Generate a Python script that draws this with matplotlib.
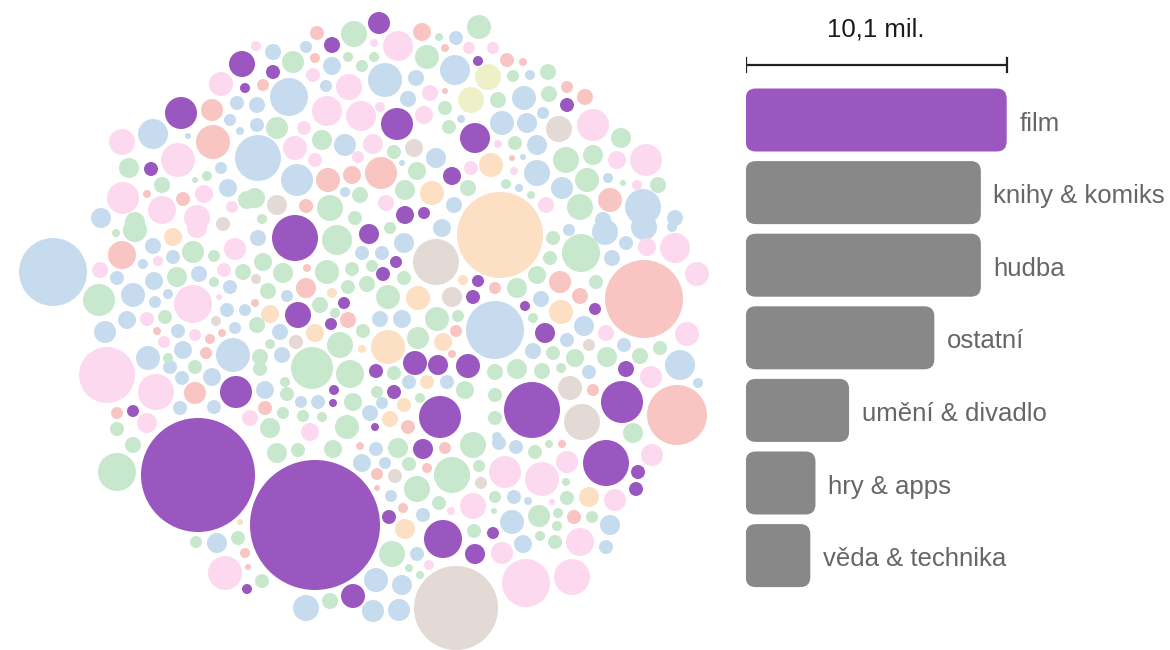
import matplotlib
matplotlib.use('Agg')
import matplotlib.pyplot as plt
from matplotlib.collections import EllipseCollection
from matplotlib.patches import FancyBboxPatch

plt.rcParams['font.family'] = ['Liberation Sans', 'DejaVu Sans']

# bubble chart: one circle per project (x, y, radius)
film_projects = [
    (242, 64, 13), (245, 88, 5), (181, 113, 16), (151, 169, 7), (379, 23, 11), (332, 45, 8),
    (478, 61, 5), (273, 72, 7), (397, 124, 16), (475, 138, 15), (452, 176, 9), (405, 215, 9),
    (424, 213, 6), (567, 105, 7), (295, 238, 23), (369, 234, 10), (396, 262, 6), (383, 274, 7),
    (478, 281, 6), (473, 297, 7), (344, 303, 6), (298, 315, 13), (331, 324, 6), (415, 363, 12),
    (438, 365, 10), (468, 366, 12), (376, 371, 7), (334, 390, 5), (333, 403, 4), (394, 392, 7),
    (440, 417, 21), (375, 427, 4), (525, 306, 5), (595, 309, 6), (545, 333, 10), (626, 369, 8),
    (532, 410, 28), (622, 402, 21), (236, 392, 16), (133, 411, 6), (198, 475, 57), (247, 589, 5),
    (315, 525, 65), (423, 449, 10), (389, 517, 7), (443, 539, 19), (475, 554, 10), (353, 596, 12),
    (606, 463, 23), (638, 472, 7), (636, 489, 7), (493, 533, 6),
]
blue_projects = [
    (237, 103, 7), (230, 120, 6), (240, 131, 4), (258, 158, 23), (153, 134, 15), (188, 136, 3),
    (221, 168, 6), (228, 188, 9), (101, 218, 10), (456, 38, 7), (273, 52, 8), (306, 47, 6),
    (455, 70, 15), (332, 66, 9), (385, 80, 17), (416, 78, 8), (326, 86, 6), (289, 97, 19),
    (257, 105, 8), (408, 99, 8), (461, 119, 4), (257, 125, 7), (345, 145, 11), (436, 158, 10),
    (402, 163, 3), (297, 180, 16), (345, 192, 5), (454, 205, 8), (530, 75, 5), (524, 98, 12),
    (543, 113, 6), (527, 123, 10), (502, 123, 12), (537, 145, 10), (523, 157, 3), (537, 173, 13),
    (608, 178, 5), (519, 188, 4), (562, 188, 11), (643, 207, 18), (675, 218, 8), (603, 220, 8),
    (53, 272, 34), (153, 246, 8), (173, 257, 7), (143, 264, 5), (199, 274, 8), (117, 278, 7),
    (154, 281, 9), (230, 287, 7), (133, 295, 12), (155, 302, 6), (168, 294, 5), (227, 310, 7),
    (245, 310, 6), (127, 320, 9), (105, 332, 11), (178, 331, 7), (235, 328, 6), (183, 350, 9),
    (233, 355, 17), (148, 358, 12), (170, 367, 7), (212, 377, 9), (182, 378, 7), (180, 408, 7),
    (214, 407, 7), (217, 543, 10), (376, 449, 7), (362, 463, 9), (385, 463, 6), (391, 496, 6),
    (423, 515, 7), (417, 554, 7), (376, 580, 12), (402, 585, 10), (306, 608, 13), (373, 611, 11),
    (399, 610, 11), (499, 443, 7), (516, 447, 7), (514, 497, 7), (528, 501, 4), (512, 522, 12),
    (610, 525, 10), (523, 544, 9), (606, 547, 7), (404, 243, 10), (442, 228, 9), (258, 238, 8),
    (362, 253, 7), (382, 253, 7), (287, 296, 6), (380, 319, 8), (402, 319, 9), (495, 330, 29),
    (280, 332, 8), (282, 355, 8), (409, 382, 7), (447, 382, 7), (265, 390, 9), (382, 403, 6),
    (301, 402, 6), (318, 402, 7), (370, 413, 8), (569, 230, 6), (605, 232, 13), (644, 227, 13),
    (672, 227, 5), (626, 243, 7), (612, 258, 8), (541, 299, 8), (584, 326, 10), (567, 340, 7),
    (624, 345, 7), (533, 351, 8), (680, 365, 15), (589, 372, 7), (698, 383, 5), (497, 437, 5),
]
green_projects = [
    (129, 168, 10), (195, 180, 3), (207, 176, 5), (162, 185, 8), (247, 200, 9), (135, 222, 10),
    (354, 34, 13), (439, 37, 4), (479, 27, 12), (348, 57, 5), (374, 57, 5), (293, 62, 11),
    (427, 57, 12), (362, 66, 6), (445, 108, 7), (449, 127, 7), (277, 128, 11), (322, 140, 10),
    (394, 152, 7), (417, 171, 9), (255, 198, 10), (330, 208, 13), (360, 195, 8), (405, 190, 10),
    (468, 188, 8), (262, 219, 5), (355, 218, 7), (548, 72, 8), (513, 76, 6), (549, 94, 8),
    (498, 100, 8), (621, 138, 10), (515, 143, 7), (566, 160, 13), (593, 155, 10), (587, 180, 12),
    (623, 183, 3), (658, 185, 8), (506, 184, 5), (531, 195, 4), (580, 207, 13), (135, 230, 12),
    (116, 233, 4), (193, 252, 11), (214, 256, 6), (177, 277, 10), (243, 272, 8), (214, 282, 5),
    (99, 300, 16), (165, 317, 7), (168, 358, 5), (195, 367, 7), (117, 429, 7), (117, 472, 19),
    (133, 445, 8), (196, 542, 6), (238, 538, 7), (277, 453, 10), (298, 450, 7), (333, 449, 9),
    (398, 448, 10), (473, 445, 13), (409, 464, 7), (452, 475, 18), (479, 466, 6), (417, 489, 13),
    (439, 503, 7), (474, 531, 7), (392, 554, 13), (409, 568, 4), (420, 575, 4), (330, 601, 8),
    (262, 581, 7), (535, 452, 7), (549, 444, 4), (566, 482, 4), (567, 498, 7), (495, 497, 6),
    (494, 511, 3), (539, 516, 11), (558, 513, 5), (592, 517, 6), (557, 526, 5), (540, 536, 5),
    (555, 542, 7), (337, 240, 15), (390, 228, 6), (263, 262, 9), (283, 273, 10), (327, 272, 12),
    (352, 269, 7), (372, 266, 6), (404, 278, 7), (268, 291, 8), (348, 287, 7), (367, 284, 8),
    (388, 297, 12), (320, 305, 8), (335, 313, 5), (437, 319, 12), (458, 316, 6), (257, 325, 8),
    (363, 331, 7), (418, 338, 11), (270, 344, 5), (340, 345, 13), (260, 357, 8), (312, 368, 21),
    (350, 374, 14), (394, 373, 7), (465, 390, 9), (260, 369, 7), (285, 382, 5), (287, 394, 7),
    (353, 402, 9), (377, 392, 6), (420, 398, 5), (283, 413, 6), (303, 416, 6), (322, 417, 5),
    (347, 427, 12), (270, 428, 10), (553, 238, 7), (550, 258, 7), (581, 253, 19), (517, 288, 10),
    (537, 275, 9), (596, 282, 7), (533, 318, 5), (660, 348, 7), (553, 353, 7), (575, 358, 9),
    (607, 357, 10), (640, 356, 8), (495, 372, 8), (517, 369, 10), (542, 371, 8), (561, 368, 5),
    (495, 395, 7), (495, 418, 7), (633, 433, 10),
]
pink_projects = [
    (221, 84, 12), (122, 142, 13), (178, 160, 17), (123, 198, 16), (204, 194, 9), (232, 207, 6),
    (162, 210, 14), (197, 218, 13), (256, 46, 5), (374, 43, 4), (398, 46, 15), (469, 48, 6),
    (313, 75, 7), (349, 87, 13), (430, 93, 8), (327, 111, 15), (361, 116, 15), (380, 107, 5),
    (424, 115, 9), (304, 128, 7), (373, 144, 10), (295, 148, 12), (315, 160, 7), (358, 157, 6),
    (471, 168, 7), (386, 203, 8), (493, 48, 6), (593, 125, 16), (498, 144, 4), (617, 160, 9),
    (646, 160, 16), (514, 171, 4), (637, 185, 5), (546, 205, 8), (197, 228, 10), (235, 249, 11),
    (100, 270, 8), (158, 261, 5), (224, 270, 7), (193, 304, 19), (219, 297, 3), (147, 319, 7),
    (195, 335, 6), (164, 342, 6), (107, 375, 28), (156, 392, 18), (147, 423, 10), (250, 418, 8),
    (225, 573, 17), (473, 506, 13), (451, 511, 4), (429, 565, 5), (652, 455, 11), (567, 462, 11),
    (505, 472, 16), (542, 479, 17), (615, 500, 11), (552, 502, 3), (580, 542, 14), (502, 553, 11),
    (526, 583, 24), (572, 577, 18), (310, 432, 9), (647, 247, 9), (675, 248, 15), (697, 274, 12),
    (606, 333, 8), (687, 334, 12), (651, 377, 11),
]
salmon_projects = [
    (212, 110, 11), (213, 142, 17), (147, 194, 4), (183, 199, 7), (317, 33, 7), (422, 32, 9),
    (315, 58, 5), (445, 48, 4), (263, 85, 6), (445, 91, 3), (328, 180, 12), (352, 175, 9),
    (381, 173, 16), (306, 206, 7), (507, 60, 7), (523, 62, 4), (567, 87, 6), (585, 97, 8),
    (512, 158, 3), (610, 200, 12), (122, 255, 14), (157, 331, 4), (210, 339, 5), (222, 333, 4),
    (206, 353, 6), (195, 393, 11), (117, 413, 6), (245, 553, 5), (248, 567, 3), (360, 446, 4),
    (445, 448, 6), (427, 468, 5), (377, 474, 6), (377, 488, 3), (403, 508, 5), (562, 444, 4),
    (574, 517, 7), (307, 268, 4), (306, 288, 10), (255, 303, 4), (348, 320, 8), (456, 331, 6),
    (452, 354, 4), (265, 408, 7), (408, 427, 7), (644, 299, 39), (560, 282, 11), (495, 288, 6),
    (580, 296, 8), (593, 390, 6), (677, 415, 30),
]
peach_projects = [
    (432, 193, 12), (500, 235, 43), (491, 165, 12), (173, 237, 9), (240, 522, 3), (405, 529, 10),
    (589, 497, 10), (418, 298, 12), (463, 280, 5), (332, 293, 5), (270, 314, 9), (315, 333, 9),
    (388, 347, 17), (443, 342, 9), (362, 349, 4), (427, 382, 7), (404, 405, 7), (390, 419, 8),
    (561, 312, 12),
]
taupe_projects = [
    (223, 224, 7), (414, 148, 9), (277, 205, 10), (559, 129, 13), (216, 321, 5), (395, 476, 7),
    (481, 483, 6), (456, 608, 42), (436, 262, 23), (256, 279, 5), (452, 297, 10), (296, 342, 7),
    (589, 345, 6), (570, 388, 12), (582, 422, 18),
]
yellow_projects = [(488, 77, 13), (471, 100, 13)]

# bar chart
categories = ['film', 'knihy & komiks', 'hudba', 'ostatní', 'umění & divadlo',
              'hry & apps', 'věda & technika']
totals = [10.1, 9.1, 9.1, 7.3, 4.0, 2.7, 2.5]   # mil.
scale_value = 10.1
scale_label = '10,1 mil.'

film_color = '#9b57c0'
bubble_groups = [
    (blue_projects, '#c6dcee'),
    (green_projects, '#c7e8cd'),
    (pink_projects, '#fcd9ef'),
    (salmon_projects, '#f8c5c3'),
    (peach_projects, '#fddfc4'),
    (taupe_projects, '#e3d9d5'),
    (yellow_projects, '#eef0c8'),
    (film_projects, film_color),
]

fig = plt.figure(figsize=(11.7, 6.5), dpi=100)
fig.patch.set_facecolor('white')

ax = fig.add_axes([0, 0, 1, 1])
ax.set_xlim(0, 1170)
ax.set_ylim(650, 0)
ax.set_aspect('equal')
ax.axis('off')

for group, color in bubble_groups:
    xy = [(x, y) for x, y, r in group]
    d = [2 * r for x, y, r in group]
    coll = EllipseCollection(d, d, [0] * len(d), units='xy', offsets=xy,
                             offset_transform=ax.transData, facecolors=color,
                             edgecolors='none')
    ax.add_collection(coll)

# bars on their own axes, x in millions
px_per_mil = 261 / scale_value
row_px = 72.6
left_px = 745.7
ax2 = fig.add_axes([left_px / 1170, 0, (1170 - left_px) / 1170, 1])
ax2.set_xlim(0, (1170 - left_px) / px_per_mil)
ax2.set_ylim((650 - 120) / row_px, -120 / row_px)
ax2.axis('off')

bar_h = 0.868
round_px = 10
for i, (cat, val) in enumerate(zip(categories, totals)):
    color = film_color if i == 0 else '#888888'
    box = FancyBboxPatch((0, i - bar_h / 2), val, bar_h,
                         boxstyle=f'round,pad=0,rounding_size={round_px / px_per_mil}',
                         mutation_aspect=px_per_mil / row_px, fc=color, ec='none')
    ax2.add_patch(box)
    ax2.text(val + 12.5 / px_per_mil, i + 0.145, cat, fontsize=18.5, color='#666666',
             ha='left', va='baseline')

# scale bar
ys = (65 - 120) / row_px
tick = 7 / row_px
ax2.plot([0, scale_value], [ys, ys], color='#222222', lw=1.6, solid_capstyle='butt')
ax2.plot([0, 0], [ys - tick, ys + tick], color='#222222', lw=1.6)
ax2.plot([scale_value, scale_value], [ys - tick, ys + tick], color='#222222', lw=1.6)
ax2.text(scale_value / 2, (36 - 120) / row_px, scale_label, fontsize=18.5, color='#1a1a1a',
         ha='center', va='baseline')

fig.savefig('out.png', dpi=100, facecolor='white')
